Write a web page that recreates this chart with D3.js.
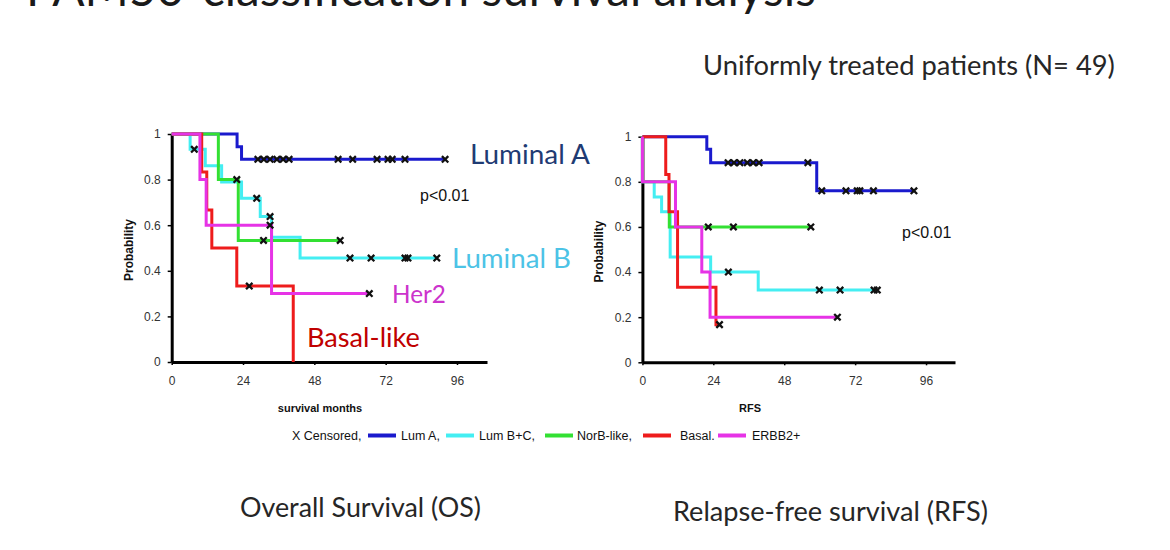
<!DOCTYPE html>
<html><head><meta charset="utf-8">
<script src="https://cdn.jsdelivr.net/npm/d3@7"></script>
<style>body{margin:0;background:#fff;overflow:hidden}</style>
</head><body>
<svg id="c" width="1170" height="550"></svg>
<script>
// ---------- data ----------
const monthTicks = [0, 24, 48, 72, 96];
const probTicks = [0, 0.2, 0.4, 0.6, 0.8, 1];
const subtypes = ["Lum A", "Lum B+C", "NorB-like", "Basal", "ERBB2+"];
const legendLabels = ["Lum A,", "Lum B+C,", "NorB-like,", "Basal.", "ERBB2+"];
const subtypeColors = ["#1a1acd", "#44eef2", "#33e033", "#ee1c1c", "#e633e6"];

// Overall survival: [month, probability] steps and censor months
const osLumA = [[0,1],[22,0.944],[23.5,0.889]];
const osLumACens = [29,31,33.1,35.4,37.5,39.5,56,60.9,69.1,72.8,74.2,78.5,92];
const osLumB = [[0,1],[6.2,0.933],[11.3,0.861],[16.8,0.789],[23.5,0.718],[29.8,0.638],[33.6,0.547],[43.2,0.456]];
const osLumBCens = [7.6,28.6,33.1,60,67.1,78.5,79.5,89.2];
const osNorB = [[0,1],[15.7,0.8],[22.4,0.533]];
const osNorBCens = [21.9,30.9,56.7];
const osBasal = [[0,1],[10.1,0.833],[11.8,0.667],[13.5,0.5],[21.9,0.333],[40.9,0]];
const osBasalCens = [26.1];
const osErbb2 = [[0,1],[9.5,0.8],[11.6,0.6],[33.6,0.3]];
const osErbb2Cens = [33.1,66.5];

// Relapse-free survival
const rfsLumA = [[0,1],[21.8,0.944],[23.1,0.885],[59,0.76]];
const rfsLumACens = [29,31,33,35.5,37.5,39.5,56,60.7,68.9,72.7,73.6,78.2,91.9];
const rfsLumB = [[0,1],[0,0.8],[4,0.733],[6.5,0.667],[9.4,0.467],[23.1,0.4],[39.2,0.32]];
const rfsLumBCens = [29.1,59.9,66.9,78.4,79.5];
const rfsNorB = [[0,1],[0,0.8],[9.1,0.6]];
const rfsNorBCens = [22.3,30.8,57];
const rfsBasal = [[0,1],[7.9,0.833],[9,0.667],[11.9,0.333],[24.9,0.167]];
const rfsBasalCens = [26.1];
const rfsErbb2 = [[0,1],[0,0.8],[11.2,0.6],[20.1,0.4],[22.9,0.2]];
const rfsErbb2Cens = [66];

const osSeries = [[osLumA,osLumACens],[osLumB,osLumBCens],[osNorB,osNorBCens],[osBasal,osBasalCens],[osErbb2,osErbb2Cens]];
const rfsSeries = [[rfsLumA,rfsLumACens],[rfsLumB,rfsLumBCens],[rfsNorB,rfsNorBCens],[rfsBasal,rfsBasalCens],[rfsErbb2,rfsErbb2Cens]];

// ---------- drawing ----------
const svg = d3.select("#c");
const AX = "Liberation Sans, Arial, sans-serif";
const SLIDE = "Lato, 'Open Sans', sans-serif";

function fitText(sel, width) {
  sel.style("font-size", "100px");
  const w = sel.node().getComputedTextLength();
  sel.style("font-size", (100 * width / w) + "px");
  return sel;
}

function survAt(steps, t) {
  let s = steps[0][1];
  for (const [m, p] of steps) if (m <= t) s = p;
  return s;
}

function drawPanel(cfg) {
  const x = d3.scaleLinear().domain(cfg.xDomain).range(cfg.xRange);
  const y = d3.scaleLinear().domain([0, 1]).range(cfg.yRange);
  const g = svg.append("g");

  const xa = g.append("g").attr("transform", `translate(0,${cfg.yRange[0]})`)
    .call(d3.axisBottom(x).tickValues(monthTicks).tickSize(3).tickSizeOuter(0).tickPadding(11));
  const ya = g.append("g").attr("transform", `translate(${cfg.xRange[0]},0)`)
    .call(d3.axisLeft(y).tickValues(probTicks).tickSize(4).tickSizeOuter(0).tickPadding(7)
      .tickFormat(d => (d === 0 || d === 1) ? String(d) : d.toFixed(1)));
  [xa, ya].forEach(a => {
    a.select(".domain").attr("stroke", "#000").attr("stroke-width", 3);
    a.selectAll(".tick line").attr("stroke", "#000").attr("stroke-width", 1.5);
    a.selectAll(".tick text").attr("fill", "#333").style("font-family", AX).style("font-size", "12px");
  });

  const line = d3.line().x(d => x(d[0])).y(d => y(d[1])).curve(d3.curveStepAfter);
  cfg.series.forEach(([steps, cens], i) => {
    const end = Math.max(steps[steps.length - 1][0], d3.max(cens));
    const pts = steps.concat([[end, steps[steps.length - 1][1]]]);
    g.append("path").attr("d", line(pts)).attr("fill", "none")
      .attr("stroke", subtypeColors[i]).attr("stroke-width", 3);
  });
  cfg.series.forEach(([steps, cens]) => {
    cens.forEach(t => {
      g.append("path").attr("d", "M-3.2,-3.2L3.2,3.2M-3.2,3.2L3.2,-3.2")
        .attr("transform", `translate(${x(t)},${y(survAt(steps, t))})`)
        .attr("stroke", "#111").attr("stroke-width", 2.3).attr("fill", "none");
    });
  });

  g.append("text").text("Probability")
    .attr("transform", `translate(${cfg.yLabelX},${(cfg.yRange[0] + cfg.yRange[1]) / 2 + 2}) rotate(-90)`)
    .attr("text-anchor", "middle").attr("dy", "0.35em")
    .style("font-family", AX).style("font-weight", "bold").style("font-size", "12px").attr("fill", "#111");
  g.append("text").text(cfg.xLabel)
    .attr("x", cfg.xLabelX).attr("y", 412).attr("text-anchor", "middle")
    .style("font-family", AX).style("font-weight", "bold").style("font-size", "11px").attr("fill", "#111");
  g.append("text").text("p<0.01")
    .attr("x", cfg.pX).attr("y", cfg.pY)
    .style("font-family", AX).style("font-size", "16px").attr("fill", "#111");
}

drawPanel({
  xDomain: [0, 106.1], xRange: [171.7, 487], yRange: [362, 134],
  series: osSeries, yLabelX: 129, xLabel: "survival months", xLabelX: 320, pX: 420, pY: 201
});
drawPanel({
  xDomain: [0, 105.8], xRange: [642.4, 955], yRange: [362.3, 136.7],
  series: rfsSeries, yLabelX: 599, xLabel: "RFS", xLabelX: 750, pX: 902, pY: 238
});

// legend
svg.append("text").text("X Censored,").attr("x", 292).attr("y", 440)
  .style("font-family", AX).style("font-size", "12.5px").attr("fill", "#111");
const swatchX = [368, 446, 545, 643, 718];
const labelX = [401, 479, 577, 680, 752];
subtypes.forEach((s, i) => {
  svg.append("line").attr("x1", swatchX[i]).attr("x2", swatchX[i] + 28).attr("y1", 435.5).attr("y2", 435.5)
    .attr("stroke", subtypeColors[i]).attr("stroke-width", 4);
  svg.append("text").text(legendLabels[i]).attr("x", labelX[i]).attr("y", 440)
    .style("font-family", AX).style("font-size", "12.5px").attr("fill", "#111");
});

// slide texts
function slideText(str, x, yb, w, color) {
  const t = svg.append("text").text(str).attr("x", x).attr("y", yb)
    .style("font-family", SLIDE).style("font-weight", 400).attr("fill", color);
  fitText(t, w);
  return t;
}
slideText("PAM50-classification survival analysis", 26, 6, 790, "#1a1a1a");
slideText("Uniformly treated patients (N= 49)", 703, 75, 412, "#262626");
slideText("Luminal A", 470, 164, 120, "#1f3b73");
slideText("Luminal B", 452, 268, 119, "#4cc3e6");
slideText("Her2", 392, 303, 54, "#cc33cc");
slideText("Basal-like", 307, 347, 113, "#c00000");
slideText("Overall Survival (OS)", 240, 517, 241, "#262626");
slideText("Relapse-free survival (RFS)", 673, 521, 315, "#262626");
</script>
</body></html>
